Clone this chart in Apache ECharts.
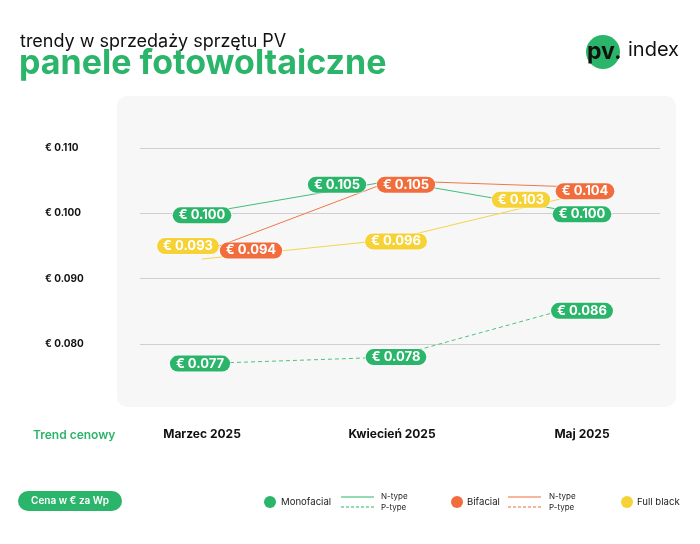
<!DOCTYPE html>
<html>
<head>
<meta charset="utf-8">
<script src="https://cdn.jsdelivr.net/npm/echarts@6/dist/echarts.min.js"></script>
<style>
html,body{margin:0;padding:0;background:#fff;}
#chart{width:700px;height:544px;}
</style>
</head>
<body>
<div id="chart"></div>
<script>
// ---- data ----
var months = ['Marzec 2025', 'Kwiecień 2025', 'Maj 2025'];
var monofacialN = [0.100, 0.105, 0.100];
var monofacialP = [0.077, 0.078, 0.086];
var bifacialN = [0.094, 0.105, 0.104];
var fullBlack = [0.093, 0.096, 0.103];
var yTicks = [0.080, 0.090, 0.100, 0.110];

// ---- style ----
var GREEN = '#2bb56a', ORANGE = '#f26d3d', YELLOW = '#f6d236';
var FONT = 'Inter, "Noto Sans", sans-serif';

function fmt(v) { return '€ ' + v.toFixed(3); }

function mkData(values, offsets) {
  return values.map(function (v, i) {
    return { value: v, label: { offset: offsets[i] } };
  });
}

function lineSeries(name, values, color, lineColor, dashed, offsets) {
  return {
    name: name,
    type: 'line',
    xAxisIndex: 1,
    yAxisIndex: 1,
    data: mkData(values, offsets),
    symbol: 'circle',
    symbolSize: 1,
    showSymbol: true,
    itemStyle: { color: 'rgba(0,0,0,0)' },
    z: 2,
    lineStyle: { color: lineColor, width: 1, type: dashed ? [4, 3] : 'solid' },
    label: {
      show: true,
      position: 'inside',
      formatter: function (p) { return fmt(p.value); },
      color: '#fff',
      fontFamily: FONT,
      fontWeight: 'bold',
      fontSize: 13,
      backgroundColor: color,
      borderColor: 'rgba(255,255,255,0.55)',
      borderWidth: 1,
      borderRadius: 9,
      padding: [2, 6, 1, 6]
    },
    emphasis: { disabled: true }
  };
}

var chart = echarts.init(document.getElementById('chart'), null, { renderer: 'canvas' });

var gridTop = 148 - 65.333;
var gridH = 65.333 * 5;

var option = {
  animation: false,
  backgroundColor: '#fff',
  grid: [
    { left: 140, right: 40, top: gridTop, height: gridH },
    { left: 107, width: 570, top: gridTop, height: gridH }
  ],
  xAxis: [
    { gridIndex: 0, type: 'category', data: months, show: false },
    {
      gridIndex: 1, type: 'category', data: months, boundaryGap: true,
      axisLine: { show: false }, axisTick: { show: false },
      axisLabel: { color: '#111', fontFamily: FONT, fontWeight: 'bold', fontSize: 12, margin: 19 }
    }
  ],
  yAxis: [
    {
      gridIndex: 0, type: 'value', min: 0.07, max: 0.12, interval: 0.01,
      axisLine: { show: false }, axisTick: { show: false },
      splitLine: { show: true, showMinLine: false, showMaxLine: false, lineStyle: { color: '#cfcfcf', width: 1 } },
      axisLabel: {
        align: 'left', margin: 95, color: '#111', fontFamily: FONT, fontWeight: 'bold', fontSize: 10,
        formatter: function (v) {
          for (var i = 0; i < yTicks.length; i++) if (Math.abs(yTicks[i] - v) < 1e-6) return fmt(v);
          return '';
        }
      }
    },
    { gridIndex: 1, type: 'value', min: 0.07, max: 0.12, show: false, splitLine: { show: false } }
  ],
  series: [
    lineSeries('Monofacial P-type', monofacialP, GREEN, '#4cc483', true, [[-2, 0], [4, 0], [0, 6]]),
    lineSeries('Full black', fullBlack, YELLOW, '#f6d54a', false, [[-14, -13], [4, 2], [-61, 6]]),
    lineSeries('Monofacial N-type', monofacialN, GREEN, '#3fbf79', false, [[0, 2], [-55, 4], [0, 1]]),
    lineSeries('Bifacial N-type', bifacialN, ORANGE, '#f07848', false, [[49, -2], [14, 4], [3, 4]])
  ],
  graphic: [
    { type: 'rect', z: -10, shape: { x: 117, y: 96, width: 559, height: 311, r: 10 }, style: { fill: '#f7f7f7' } },
    { type: 'text', style: { x: 20, y: 42, verticalAlign: 'middle', text: 'trendy w sprzedaży sprzętu PV', fill: '#111', font: '18px ' + FONT } },
    { type: 'text', style: { x: 19, y: 64, verticalAlign: 'middle', text: 'panele fotowoltaiczne', fill: GREEN, font: 'bold 34px ' + FONT } },
    // logo
    { type: 'circle', shape: { cx: 603, cy: 52, r: 17 }, style: { fill: GREEN } },
    { type: 'text', style: { x: 587, y: 52, verticalAlign: 'middle', text: 'pv.', fill: '#111', font: 'bold 23px ' + FONT } },
    { type: 'text', style: { x: 628, y: 50, verticalAlign: 'middle', text: 'index', fill: '#111', font: '20px ' + FONT } },
    // axis caption
    { type: 'text', style: { x: 33, y: 435, verticalAlign: 'middle', text: 'Trend cenowy', fill: GREEN, font: '600 12px ' + FONT } },
    // bottom pill
    { type: 'rect', shape: { x: 18, y: 491, width: 104, height: 20, r: 10 }, style: { fill: GREEN } },
    { type: 'text', style: { x: 70, y: 501, align: 'center', verticalAlign: 'middle', text: 'Cena w € za Wp', fill: '#fff', font: '600 10px ' + FONT } },
    // legend: Monofacial
    { type: 'circle', shape: { cx: 270, cy: 502, r: 6 }, style: { fill: GREEN } },
    { type: 'text', style: { x: 281, y: 502, verticalAlign: 'middle', text: 'Monofacial', fill: '#222', font: '9.6px ' + FONT } },
    { type: 'line', shape: { x1: 341, y1: 497, x2: 374, y2: 497 }, style: { stroke: GREEN, lineWidth: 1.2 } },
    { type: 'line', shape: { x1: 341, y1: 507, x2: 374, y2: 507 }, style: { stroke: GREEN, lineWidth: 1.2, lineDash: [3, 2] } },
    { type: 'text', style: { x: 381, y: 497, verticalAlign: 'middle', text: 'N-type', fill: '#222', font: '8px ' + FONT } },
    { type: 'text', style: { x: 381, y: 508, verticalAlign: 'middle', text: 'P-type', fill: '#222', font: '8px ' + FONT } },
    // legend: Bifacial
    { type: 'circle', shape: { cx: 457, cy: 502, r: 6 }, style: { fill: ORANGE } },
    { type: 'text', style: { x: 467, y: 502, verticalAlign: 'middle', text: 'Bifacial', fill: '#222', font: '9.6px ' + FONT } },
    { type: 'line', shape: { x1: 508, y1: 497, x2: 541, y2: 497 }, style: { stroke: ORANGE, lineWidth: 1.2 } },
    { type: 'line', shape: { x1: 508, y1: 507, x2: 541, y2: 507 }, style: { stroke: ORANGE, lineWidth: 1.2, lineDash: [3, 2] } },
    { type: 'text', style: { x: 549, y: 497, verticalAlign: 'middle', text: 'N-type', fill: '#222', font: '8px ' + FONT } },
    { type: 'text', style: { x: 549, y: 508, verticalAlign: 'middle', text: 'P-type', fill: '#222', font: '8px ' + FONT } },
    // legend: Full black
    { type: 'circle', shape: { cx: 627, cy: 502, r: 6 }, style: { fill: YELLOW } },
    { type: 'text', style: { x: 637, y: 502, verticalAlign: 'middle', text: 'Full black', fill: '#222', font: '9.6px ' + FONT } }
  ]
};
chart.setOption(option);
</script>
</body>
</html>
